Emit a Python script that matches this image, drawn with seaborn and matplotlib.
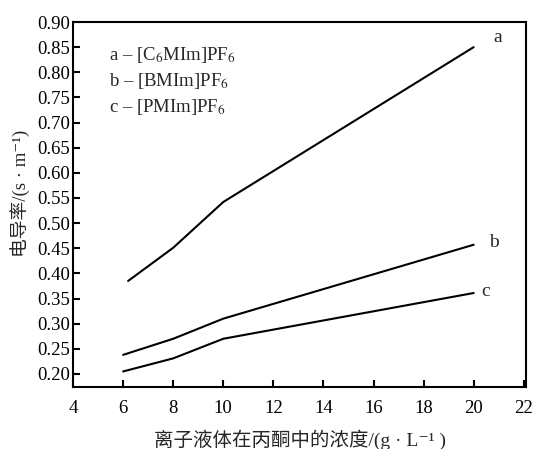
import matplotlib
matplotlib.use("Agg")
import matplotlib.pyplot as plt
import seaborn as sns
import pandas as pd

x_a = [6.2, 8, 10, 20]
y_a = [0.385, 0.451, 0.542, 0.850]
x_b = [6, 8, 10, 20]
y_b = [0.238, 0.270, 0.310, 0.457]
x_c = [6, 8, 10, 20]
y_c = [0.205, 0.231, 0.270, 0.361]
series = ["a", "b", "c"]
legend_labels = [r"a – [C$_6$MIm]PF$_6$", r"b – [BMIm]PF$_6$", r"c – [PMIm]PF$_6$"]
xticks = [4, 6, 8, 10, 12, 14, 16, 18, 20, 22]
yticks = [0.20, 0.25, 0.30, 0.35, 0.40, 0.45, 0.50, 0.55, 0.60, 0.65, 0.70, 0.75, 0.80, 0.85, 0.90]

sns.set_style("ticks")
fam = ['Liberation Serif', 'Noto Sans CJK SC', 'DejaVu Serif']
plt.rcParams['font.family'] = fam
plt.rcParams['mathtext.fontset'] = 'stix'

df = pd.concat([
    pd.DataFrame({"x": x_a, "y": y_a, "s": "a"}),
    pd.DataFrame({"x": x_b, "y": y_b, "s": "b"}),
    pd.DataFrame({"x": x_c, "y": y_c, "s": "c"}),
])

fig = plt.figure(figsize=(5.37, 4.49), dpi=100)
ax = fig.add_axes([0.136, 0.138, 0.844, 0.813])
sns.lineplot(data=df, x="x", y="y", hue="s", palette=["black"] * 3,
             legend=False, ax=ax, linewidth=1.5, sort=False)

ax.set_xlim(4, 22.1)
ax.set_ylim(0.174, 0.90)
ax.set_xticks(xticks)
ax.set_yticks(yticks)
ax.set_yticklabels([f"{v:.2f}" for v in yticks])
ax.tick_params(direction="in", length=5, width=1.5, labelsize=13.5, colors="black")
ax.tick_params(axis="x", pad=9)
ax.tick_params(axis="y", pad=2)
for sp in ax.spines.values():
    sp.set_linewidth(1.5)
    sp.set_color("black")

ax.set_xlabel("离子液体在丙酮中的浓度/(g · L⁻¹ )", fontsize=14, labelpad=9, family=fam)
ax.set_ylabel("电导率/(s · m⁻¹)", fontsize=13.5, labelpad=2, family=fam)
ax.yaxis.set_label_coords(-0.095, 0.53)

for i, lab in enumerate(legend_labels):
    ax.text(0.08, 0.91 - i * 0.072, lab, transform=ax.transAxes,
            fontsize=13.5, va="center", ha="left")

ends = [(x_a[-1], y_a[-1]), (x_b[-1], y_b[-1]), (x_c[-1], y_c[-1])]
offs = [(0.8, 0.02), (0.6, 0.005), (0.3, 0.003)]
for s, (ex, ey), (dx, dy) in zip(series, ends, offs):
    ax.text(ex + dx, ey + dy, s, fontsize=14, va="center", ha="left")

fig.savefig("out.png", dpi=100)
